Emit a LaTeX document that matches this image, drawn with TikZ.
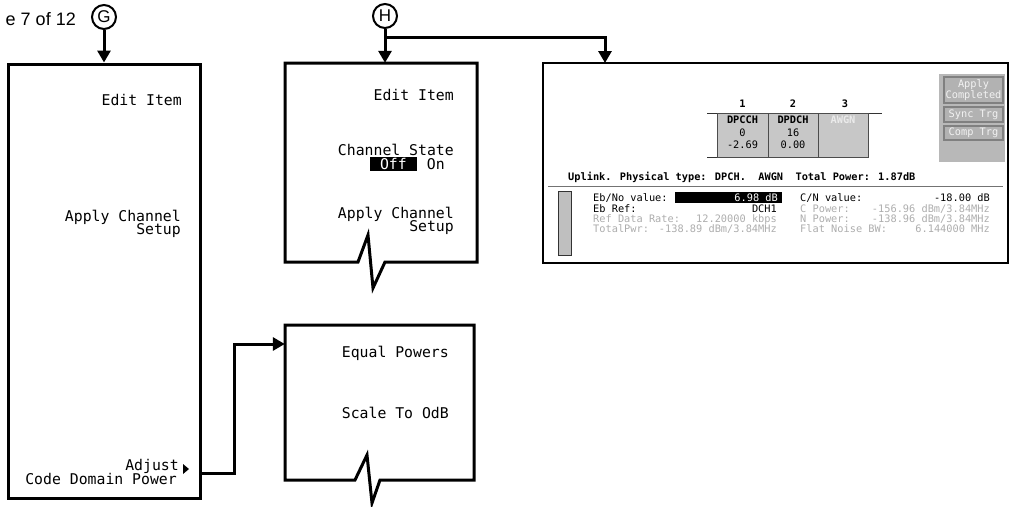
\documentclass[tikz,border=0pt]{standalone}
\usepackage{fontspec}
\setmainfont{Liberation Sans}
\newfontfamily\menufont{DejaVu Sans Mono}
\usetikzlibrary{arrows.meta}
\begin{document}
\begin{tikzpicture}[x=1pt,y=-1pt,
  box/.style={draw=black, line width=3pt, line join=miter},
  arr/.style={line width=3pt, line join=miter, -{Triangle[length=12pt,width=13pt]}},
  menu/.style={font=\menufont\fontsize{14.8}{16}\selectfont, anchor=base east, inner sep=0pt},
  scr/.style={font=\menufont\fontsize{10.3}{11}\selectfont, inner sep=0pt},
  scrb/.style={font=\menufont\bfseries\fontsize{10.3}{11}\selectfont, inner sep=0pt},
  dim/.style={text=black!32},
  circ/.style={circle, draw, line width=2pt, minimum size=24pt, inner sep=0pt, font=\fontsize{17}{17}\selectfont},
  cell/.style={draw=black!70, fill=black!22, line width=1pt},
  btn/.style={draw=black!50, fill=black!30, line width=1.2pt},
]
\useasboundingbox (0,0) rectangle (1011,506);

% page label and G
\node[anchor=base east, inner sep=0pt, font=\fontsize{18}{18}\selectfont] (pg) at (76,25) {e 7 of 12};
\node[circ] (G) at (104,17) {G};
\node[box, minimum width=192pt, minimum height=434pt, inner sep=0pt] (Gbox) at (104,281) {};
\draw[arr] (G) -- (Gbox.north);

\node[menu] (g1) at (182,105) {Edit Item};
\node[menu] (g2) at (181,221) {Apply Channel};
\node[menu] (g3) at (181,234) {Setup};
\node[menu] (g4) at (179,470) {Adjust};
\node[menu] (g5) at (177,484) {Code Domain Power};
\fill (183,464) -- (189,469) -- (183,474) -- cycle;

% H box
\node[circ] (H) at (385,16) {H};
\path node[minimum width=192pt, minimum height=199pt, inner sep=0pt] (Hbox) at (381,162.5) {};
\draw[box] (358,262) -- (285,262) -- (285,63) -- (477,63) -- (477,262) -- (385,262) -- (373,288) -- (368,235) -- cycle;
\draw[arr] (H) -- (H |- Hbox.north);
\coordinate (hj) at (385,37);
\coordinate (st) at (605,63);
\draw[arr] (hj) -| (st);

\node[menu] (h1) at (454,100) {Edit Item};
\node[menu] (h2) at (454,155) {Channel State};
\fill (370,157) rectangle (417,171);
\node[menu, text=white] (h3) at (407,169) {Off};
\node[menu] (h4) at (445,169) {On};
\node[menu] (h5) at (454,218) {Apply Channel};
\node[menu] (h6) at (454,231) {Setup};

% Equal powers box
\path node[minimum width=189pt, minimum height=155pt, inner sep=0pt] (Ebox) at (379.5,402.5) {};
\draw[box] (355,480) -- (285,480) -- (285,325) -- (474,325) -- (474,480) -- (380,480) -- (372,503) -- (367,455) -- cycle;
\node[menu] (e1) at (449,357) {Equal Powers};
\node[menu] (e2) at (449,418) {Scale To OdB};
\coordinate (adj) at (Gbox.east |- 0,473);
\coordinate (ep) at (Ebox.west |- 0,344);
\draw[arr] (adj) -- (234,473) -- (234,344) -- (ep);

% screen
\node[draw, line width=2.8pt, minimum width=465pt, minimum height=200pt, inner sep=0pt] (Scr) at (775.5,163) {};

\draw[black!80, line width=1pt] (707,113) -- (882,113);
\draw[black!80, line width=1pt] (707,157) -- (717,157);
\draw[cell] (717,113) rectangle (768,157);
\draw[cell] (768,113) rectangle (818,157);
\draw[cell] (818,113) rectangle (868,157);
\node[scrb] (n1) at (742.5,104) {1};
\node[scrb] (n2) at (793,104) {2};
\node[scrb] (n3) at (845,104) {3};
\node[scrb] (c1a) at (742.5,120) {DPCCH};
\node[scr] (c1b) at (742.5,133) {0};
\node[scr] (c1c) at (742.5,145) {-2.69};
\node[scrb] (c2a) at (793,120) {DPDCH};
\node[scr] (c2b) at (793,133) {16};
\node[scr] (c2c) at (793,145) {0.00};
\node[scrb, text=white!92!black] (c3a) at (843,120) {AWGN};

\fill[black!28] (939,74) rectangle (1005,162);
\draw[btn] (944,77) rectangle (1003,103);
\draw[btn] (944,107) rectangle (1003,122);
\draw[btn] (944,126) rectangle (1003,140);
\node[scr, text=white!95!black] (b1) at (973.5,84.5) {Apply};
\node[scr, text=white!95!black] (b2) at (973.5,96) {Completed};
\node[scr, text=white!95!black] (b3) at (973.5,114.5) {Sync Trg};
\node[scr, text=white!95!black] (b4) at (973.5,133) {Comp Trg};

\node[scrb, anchor=base west] (hdr) at (568,180) {Uplink. Physical type: DPCH.~~AWGN~~Total Power: 1.87dB};
\draw[black!55, line width=1.5pt] (548,186.5) -- (1003,186.5);
\draw[fill=black!25, draw=black!80, line width=1pt] (558,191) rectangle (571,255);

\fill (675,191.5) rectangle (782,202.5);
\node[scr, anchor=base west] (l1) at (593,201) {Eb/No value:};
\node[scr, anchor=base east, text=white] (v1) at (778,201) {6.98 dB};
\node[scr, anchor=base west] (l2) at (593,212) {Eb Ref:};
\node[scr, anchor=base east] (v2) at (777,212) {DCH1};
\node[scr, anchor=base west, dim] (l3) at (593,222) {Ref Data Rate:};
\node[scr, anchor=base east, dim] (v3) at (777,222) {12.20000 kbps};
\node[scr, anchor=base west, dim] (l4) at (593,232) {TotalPwr:};
\node[scr, anchor=base east, dim] (v4) at (777,232) {-138.89 dBm/3.84MHz};

\node[scr, anchor=base west] (r1) at (800,201) {C/N value:};
\node[scr, anchor=base east] (w1) at (990,201) {-18.00 dB};
\node[scr, anchor=base west, dim] (r2) at (800,212) {C Power:};
\node[scr, anchor=base east, dim] (w2) at (990,212) {-156.96 dBm/3.84MHz};
\node[scr, anchor=base west, dim] (r3) at (800,222) {N Power:};
\node[scr, anchor=base east, dim] (w3) at (990,222) {-138.96 dBm/3.84MHz};
\node[scr, anchor=base west, dim] (r4) at (800,232) {Flat Noise BW:};
\node[scr, anchor=base east, dim] (w4) at (990,232) {6.144000 MHz};
\end{tikzpicture}
\end{document}
